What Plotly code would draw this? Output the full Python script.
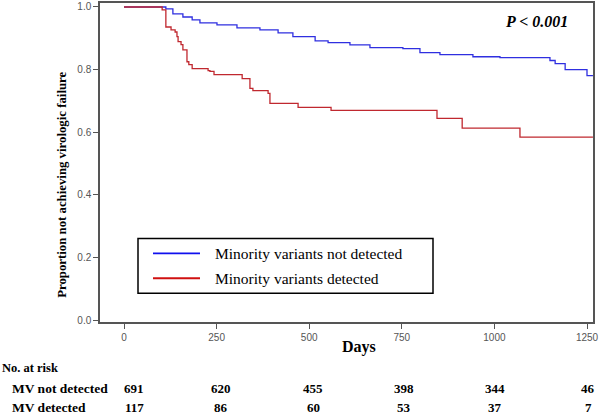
import plotly.graph_objects as go

# Kaplan-Meier step data
days_not = [0, 113, 132, 159, 184, 205, 251, 305, 367, 416, 456, 516, 551, 610, 664,
            753, 799, 853, 942, 1015, 1150, 1164, 1191, 1250, 1266]
surv_not = [1.0, 0.994, 0.978, 0.968, 0.959, 0.949, 0.943, 0.933, 0.927, 0.917, 0.905,
            0.892, 0.886, 0.879, 0.870, 0.867, 0.854, 0.848, 0.841, 0.838, 0.829,
            0.819, 0.800, 0.781, 0.781]

days_det = [0, 103, 113, 127, 138, 143, 146, 154, 159, 170, 175, 184, 227, 232, 243,
            319, 340, 348, 389, 394, 470, 559, 845, 913, 1069, 1266]
surv_det = [1.0, 0.991, 0.936, 0.927, 0.920, 0.905, 0.889, 0.880, 0.863, 0.825, 0.816,
            0.803, 0.797, 0.794, 0.784, 0.771, 0.740, 0.733, 0.724, 0.692, 0.679,
            0.670, 0.644, 0.613, 0.584, 0.584]

series_names = ["Minority variants not detected", "Minority variants detected"]
x_ticks = [0, 250, 500, 750, 1000, 1250]
y_ticks = [0.0, 0.2, 0.4, 0.6, 0.8, 1.0]
risk_labels = ["MV not detected", "MV detected"]
risk_not = [691, 620, 455, 398, 344, 46]
risk_det = [117, 86, 60, 53, 37, 7]

SERIF = "Liberation Serif, Times New Roman, serif"
SANS = "Liberation Sans, Arial, sans-serif"
BLUE = "#2f2fe0"
RED = "#c0282f"
LEG_BLUE = "#1010ee"
LEG_RED = "#d01010"

fig = go.Figure()
fig.add_trace(go.Scatter(x=days_not, y=surv_not, mode="lines", line_shape="hv",
                         line=dict(color=BLUE, width=1.3), name=series_names[0]))
fig.add_trace(go.Scatter(x=days_det, y=surv_det, mode="lines", line_shape="hv",
                         line=dict(color=RED, width=1.3), name=series_names[1]))

PW = 493.0   # plot width px
PH = 321.0   # plot height px


def px_x(p):
    return (p - 100) / PW


def px_y(p):
    return (322 - p) / PH


annotations = [
    dict(text="<b>Proportion not achieving virologic failure</b>", x=px_x(62), y=px_y(184),
         xref="paper", yref="paper", textangle=-90, showarrow=False,
         xanchor="center", yanchor="middle",
         font=dict(family=SERIF, size=12.8, color="black")),
    dict(text="<b>Days</b>", x=px_x(359), y=px_y(347), xref="paper", yref="paper",
         xanchor="center", yanchor="middle",
         showarrow=False, font=dict(family=SERIF, size=16, color="black")),
    dict(text="<b><i>P < 0.001</i></b>", x=px_x(536), y=px_y(20),
         xref="paper", yref="paper", showarrow=False, xanchor="center", yanchor="middle",
         font=dict(family=SERIF, size=16, color="black")),
    dict(text="<b>No. at risk</b>", x=px_x(0), y=px_y(368), xref="paper", yref="paper",
         xanchor="left", yanchor="middle", showarrow=False,
         font=dict(family=SERIF, size=12.5, color="black")),
]
row_y = [px_y(389), px_y(408)]
for lab, yy in zip(risk_labels, row_y):
    annotations.append(dict(text=f"<b>{lab}</b>", x=px_x(10), y=yy, xref="paper",
                            yref="paper", xanchor="left", yanchor="middle", showarrow=False,
                            font=dict(family=SERIF, size=13.5, color="black")))
shifts = [10, 4, 4, 2, 1, 1]
for vals, yy in zip([risk_not, risk_det], row_y):
    for xv, v, s in zip(x_ticks, vals, shifts):
        annotations.append(dict(text=f"<b>{v}</b>", x=xv, y=yy, xref="x", yref="paper",
                                xshift=s, xanchor="center", yanchor="middle",
                                showarrow=False,
                                font=dict(family=SERIF, size=13, color="black")))

# legend (drawn manually to match box geometry)
leg_rows = [(px_y(253), LEG_BLUE, series_names[0]), (px_y(278), LEG_RED, series_names[1])]
shapes = [dict(type="rect", xref="paper", yref="paper", x0=px_x(138), x1=px_x(433),
               y0=px_y(293), y1=px_y(238), line=dict(color="black", width=1.5),
               fillcolor="white", layer="above")]
for yy, col, name in leg_rows:
    shapes.append(dict(type="line", xref="paper", yref="paper", x0=px_x(153), x1=px_x(200),
                       y0=yy, y1=yy, line=dict(color=col, width=1.8), layer="above"))
    annotations.append(dict(text=name, x=px_x(213), y=yy, xref="paper", yref="paper",
                            xanchor="left", yanchor="middle", showarrow=False,
                            font=dict(family=SERIF, size=15.5, color="black")))

fig.update_layout(
    width=600, height=414,
    margin=dict(l=100, r=7, t=1, b=92),
    paper_bgcolor="white", plot_bgcolor="white",
    showlegend=False,
    xaxis=dict(range=[-64.8, 1266.2], tickvals=x_ticks, ticks="outside", ticklen=5,
               tickcolor="#555", showline=True, linecolor="#555", linewidth=1.5,
               mirror=True, showgrid=False, zeroline=False,
               tickfont=dict(family=SANS, size=10, color="#555")),
    yaxis=dict(range=[-0.0063, 1.0127], tickvals=y_ticks, tickformat=".1f",
               ticks="outside", ticklen=5, tickcolor="#555", showline=True,
               linecolor="#555", linewidth=1.5, mirror=True, showgrid=False,
               zeroline=False, tickfont=dict(family=SANS, size=10, color="#555")),
    annotations=annotations,
    shapes=shapes,
)

fig.write_html("out.html", config={"displayModeBar": False},
               post_script="document.body.style.margin='0';")
